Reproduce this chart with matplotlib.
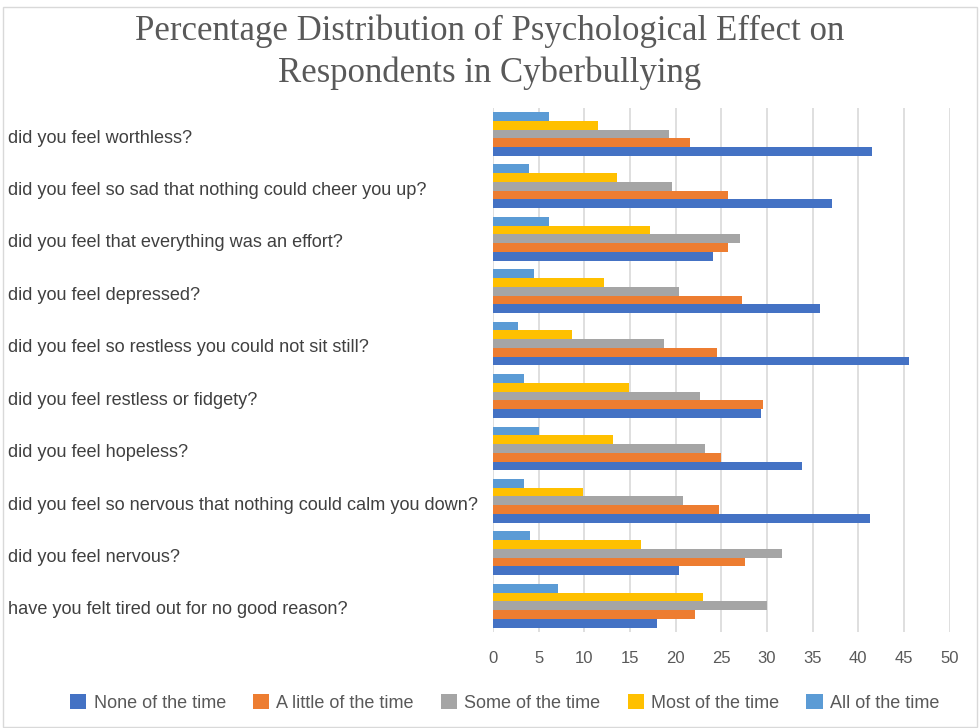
import matplotlib.pyplot as plt
import matplotlib.transforms as mtransforms
from matplotlib.patches import Rectangle
import numpy as np

# questions, listed bottom -> top as drawn
questions = [
    "have you felt tired out for no good reason?",
    "did you feel nervous?",
    "did you feel so nervous that nothing could calm you down?",
    "did you feel hopeless?",
    "did you feel restless or fidgety?",
    "did you feel so restless you could not sit still?",
    "did you feel depressed?",
    "did you feel that everything was an effort?",
    "did you feel so sad that nothing could cheer you up?",
    "did you feel worthless?",
]

series_names = ["None of the time", "A little of the time", "Some of the time",
                "Most of the time", "All of the time"]

none_of_time   = [18.0, 20.4, 41.3, 33.8, 29.4, 45.5, 35.8, 24.1, 37.1, 41.5]
little_of_time = [22.1, 27.6, 24.7, 25.0, 29.6, 24.5, 27.3, 25.7, 25.7, 21.6]
some_of_time   = [30.0, 31.7, 20.8, 23.2, 22.7, 18.7, 20.4, 27.1, 19.6, 19.3]
most_of_time   = [23.0, 16.2, 9.9, 13.1, 14.9, 8.7, 12.2, 17.2, 13.6, 11.5]
all_of_time    = [7.1, 4.1, 3.4, 5.0, 3.4, 2.7, 4.5, 6.1, 3.9, 6.1]

x_ticks = [0, 5, 10, 15, 20, 25, 30, 35, 40, 45, 50]

colors = ["#4472C4", "#ED7D31", "#A5A5A5", "#FFC000", "#5B9BD5"]
TEXT = "#595959"

fig = plt.figure(figsize=(9.8, 7.28), dpi=100)
ax = fig.add_axes([0.503, 0.132, 0.466, 0.720])

values = [none_of_time, little_of_time, some_of_time, most_of_time, all_of_time]
y = np.arange(len(questions))
h = 0.167
for j, (vals, name, c) in enumerate(zip(values, series_names, colors)):
    ax.barh(y + (j - 2) * h, vals, height=h, color=c, label=name, zorder=3)

ax.set_xlim(0, 50)
ax.set_ylim(-0.5, len(questions) - 0.5)
ax.set_xticks(x_ticks)
ax.set_yticks([])
ax.grid(axis="x", color="#D9D9D9", linewidth=1.2, zorder=0)
for s in ax.spines.values():
    s.set_visible(False)
ax.tick_params(axis="x", length=0, pad=14, labelsize=12, labelcolor=TEXT)
for lbl in ax.get_xticklabels():
    lbl.set_fontfamily("Liberation Sans")

# category labels, left-aligned at the figure edge
trans = mtransforms.blended_transform_factory(fig.transFigure, ax.transData)
for yi, q in zip(y, questions):
    ax.text(0.008, yi - 0.08, q, transform=trans, ha="left", va="center",
            fontsize=13.1, color="#404040", family="Liberation Sans")

fig.text(0.5, 0.957, "Percentage Distribution of Psychological Effect on",
         ha="center", va="center", fontsize=25, color=TEXT, family="Liberation Serif")
fig.text(0.5, 0.9, "Respondents in Cyberbullying",
         ha="center", va="center", fontsize=25, color=TEXT, family="Liberation Serif")

leg = fig.legend(loc="center", bbox_to_anchor=(0.515, 0.034), ncol=5, frameon=False,
                 handlelength=0.9, handleheight=0.9, handletextpad=0.4,
                 columnspacing=1.5, prop={"family": "Liberation Sans", "size": 13})
for t in leg.get_texts():
    t.set_color(TEXT)

# outer chart border
fig.patches.append(Rectangle((0.003, 0.002), 0.994, 0.988, transform=fig.transFigure,
                             fill=False, edgecolor="#D9D9D9", linewidth=1))

fig.savefig("out.png", dpi=100)
